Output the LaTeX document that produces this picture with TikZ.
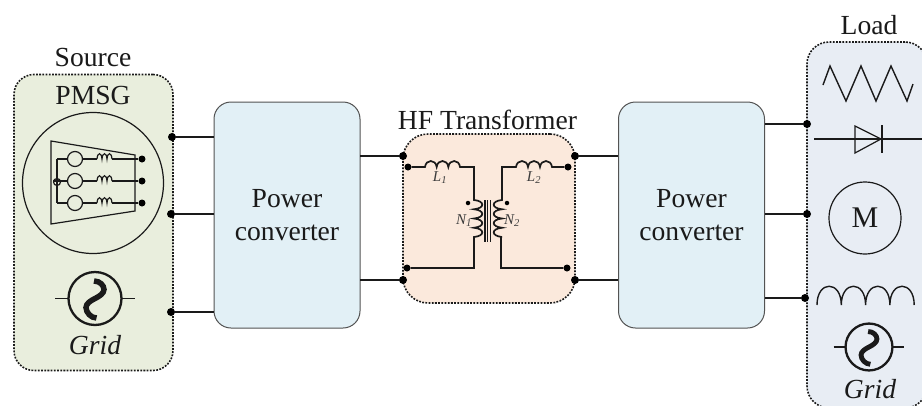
\documentclass[tikz,border=0pt]{standalone}
\usepackage{fontspec}
\setmainfont{Liberation Serif}
\definecolor{srcfill}{HTML}{E9EEDD}
\definecolor{convfill}{HTML}{E2F0F6}
\definecolor{xfmrfill}{HTML}{FBE9DC}
\definecolor{loadfill}{HTML}{E8EDF4}
\definecolor{ink}{HTML}{1A1A1A}
\tikzset{
  dotbox/.style={draw=ink,line width=1.6pt,dash pattern=on 1.8pt off 1.4pt,rounded corners=#1,inner sep=0pt},
  conv/.style={draw=ink!75,line width=1pt,fill=convfill,rounded corners=17pt,minimum width=146pt,minimum height=226pt,inner sep=0pt,align=center,text=ink,font=\fontsize{27.6}{33}\selectfont},
  wire/.style={draw=ink,line width=1.7pt},
  thin wire/.style={draw=ink,line width=1.2pt},
  jn/.style={circle,fill=black,inner sep=0pt,minimum size=#1},
  jn/.default=8pt,
  lab/.style={font=\fontsize{27.6}{30}\selectfont,inner sep=0pt,text=ink},
  ilab/.style={font=\fontsize{27.6}{30}\selectfont\itshape,inner sep=0pt,text=ink},
  small/.style={font=\fontsize{15}{17}\selectfont\itshape,inner sep=0pt,text=ink!85}
}
\newcommand{\gridsymbol}[3]{%
  \begin{scope}[shift={(#1,#2)},scale=#3]
    \draw[line width=2.3pt,draw=ink] (0,0) circle[radius=26.5];
    \draw[draw=ink,line width=5.5pt*#3] (-1,-17.5) .. controls (5,-17.5) and (9,-13) .. (9,-9) .. controls (9,-5) and (4,-2) .. (0,0) .. controls (-4,2) and (-9,5) .. (-9,9) .. controls (-9,14) and (-4,19.5) .. (1.5,19.5);
    \draw[wire] (-40,0) -- (-26.5,0) (26.5,0) -- (40,0);
  \end{scope}}
\begin{document}
\begin{tikzpicture}[x=1pt,y=-1pt]
\clip (0,0) rectangle (922,405);
\fill[white] (0,0) rectangle (922,405);
% containers
\node[dotbox=20pt,fill=srcfill,minimum width=159pt,minimum height=296pt] (src) at (93.5,222.5) {};
\node[dotbox=25pt,fill=xfmrfill,minimum width=172pt,minimum height=169pt] (xfmr) at (489,218.5) {};
\node[dotbox=22pt,fill=loadfill,minimum width=120pt,minimum height=366pt] (load) at (867,225) {};
\node[conv] (pc1) at (287,215) {Power\\converter};
\node[conv] (pc2) at (691.5,215) {Power\\converter};
% titles
\node[lab] (tsrc) at (93,57) {Source};
\node[lab] (tpm) at (93,95) {PMSG};
\node[lab] (thf) at (487.5,120) {HF Transformer};
\node[lab] (tload) at (869,25) {Load};
% terminals
\node[jn] (s1) at (172,137) {};
\node[jn] (s2) at (171,214) {};
\node[jn] (s3) at (171,312) {};
\node[jn] (x1) at (403,156) {};
\node[jn] (x2) at (403,280) {};
\node[jn] (x3) at (575,156) {};
\node[jn] (x4) at (575,280) {};
\node[jn] (l1) at (807,124) {};
\node[jn] (l2) at (807,214) {};
\node[jn] (l3) at (805,298) {};
\coordinate (p1a) at (214,137); \coordinate (p1b) at (214,214); \coordinate (p1c) at (214,312);
\coordinate (p1d) at (360,156); \coordinate (p1e) at (360,280);
\coordinate (p2a) at (618,156); \coordinate (p2b) at (618,280);
\coordinate (p2c) at (765,124); \coordinate (p2d) at (765,214); \coordinate (p2e) at (765,298);
\draw[wire] (s1)--(p1a) (s2)--(p1b) (s3)--(p1c) (p1d)--(x1) (p1e)--(x2) (x3)--(p2a) (x4)--(p2b) (p2c)--(l1) (p2d)--(l2) (p2e)--(l3);
% PMSG
\draw[thin wire] (93,183) circle[radius=70.5];
\draw[thin wire] (51,141) -- (135,155) -- (135,211) -- (51,224) -- cycle;
\node[jn=7pt] (g1) at (142,159) {};
\node[jn=7pt] (g2) at (142,181) {};
\node[jn=7pt] (g3) at (142,203) {};
\draw[thin wire] (57,159) -- (57,203);
\draw[thin wire] (57,182) circle[radius=3.5];
\foreach \yy/\gg in {159/g1,181/g2,203/g3}{
  \draw[thin wire] (57,\yy) -- (67.5,\yy) (82.5,\yy) -- (97,\yy);
  \draw[thin wire] (75,\yy) circle[radius=7.5];
  \draw[thin wire] (97,\yy) foreach \k in {1,2,3} { .. controls +(.5,-7) and +(-.5,-7) .. ++(5,0) };
  \draw[thin wire] (112,\yy) -- (\gg);
}
\draw[thin wire] (53,181) -- (57,181);
% Source grid
\gridsymbol{95}{298.5}{1}
\node[ilab] (g1t) at (95,345) {Grid};
% Transformer
\node[jn=7pt] (a1) at (408,167) {};
\node[jn=7pt] (a2) at (407,268) {};
\node[jn=7pt] (b1) at (568,167) {};
\node[jn=7pt] (b2) at (567,268) {};
\node[jn=4.5pt] (d1) at (468,203) {};
\node[jn=4.5pt] (d2) at (507,203) {};
\draw[wire] (a1) -- (425,167) foreach \k in {1,2,3} { .. controls +(1,-8) and +(-1,-8) .. ++(11.67,0) } -- (474,167) -- (474,200)
  foreach \k in {1,2,3,4} { .. controls +(11,1) and +(11,-1) .. ++(0,9.25) } -- (474,268) -- (a2);
\draw[wire] (b1) -- (552,167) foreach \k in {1,2,3} { .. controls +(-1,-8) and +(1,-8) .. ++(-12,0) } -- (502,167) -- (502,200)
  foreach \k in {1,2,3,4} { .. controls +(-11,1) and +(-11,-1) .. ++(0,9.25) } -- (501,237) -- (501,268) -- (b2);
\draw[thin wire] (485,200) -- (485,242) (487.7,200) -- (487.7,242) (490.4,200) -- (490.4,242);
\node[small] (tl1) at (440,178) {L\textsubscript{1}};
\node[small] (tl2) at (534,178) {L\textsubscript{2}};
\node[small] (tn1) at (464,221) {N\textsubscript{1}};
\node[small] (tn2) at (512,221) {N\textsubscript{2}};
% Load: resistor
\draw[thin wire,line width=1.4pt] (823,85) -- (830,66) -- (846,101) -- (861,66) -- (876,101) -- (891,66) -- (907,101) -- (913,84);
% diode
\draw[thin wire] (814,139) -- (922,139);
\draw[thin wire] (855,126) -- (855,153) -- (881,139) -- cycle;
\draw[wire] (882,125) -- (882,153);
% motor
\node[circle,draw=ink,line width=1.2pt,minimum size=72pt,inner sep=0pt,font=\fontsize{30}{32}\selectfont,text=ink] (mot) at (865,218) {M};
% inductor
\draw[thin wire,line width=1.4pt] (817,305) foreach \k in {1,2,3,4} { .. controls +(0,-25) and +(0,-25) .. ++(24.3,0) };
% Load grid
\gridsymbol{869}{347}{.885}
\node[ilab] (g2t) at (870,389) {Grid};
\end{tikzpicture}
\end{document}
